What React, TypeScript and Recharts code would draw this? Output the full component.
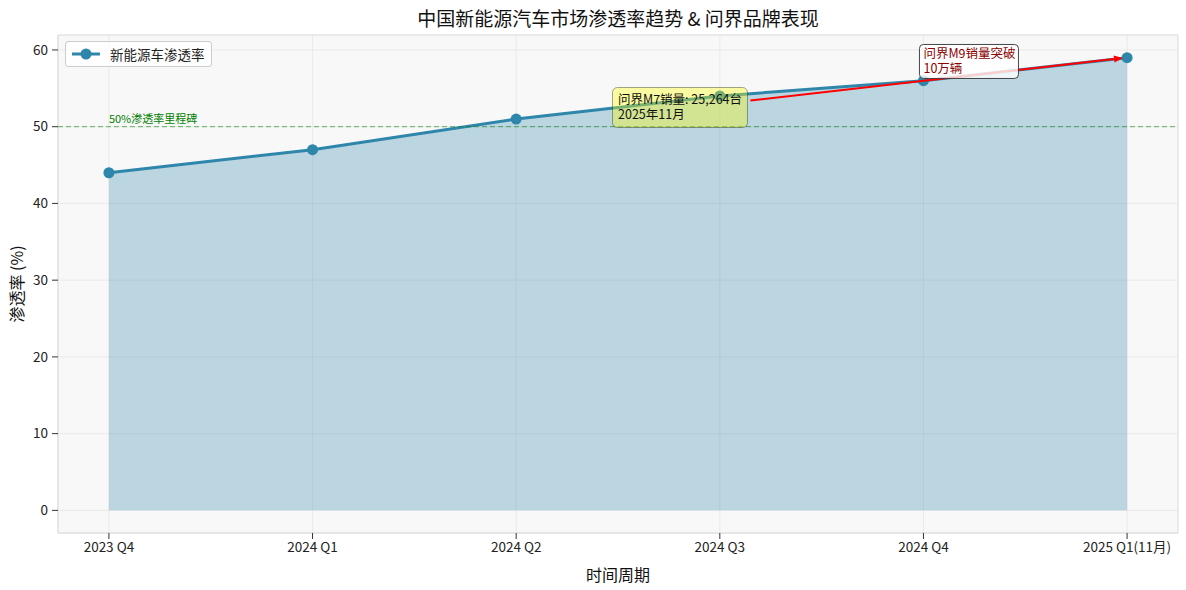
import React from 'react';
import {
  ComposedChart, Area, Line, XAxis, YAxis, CartesianGrid, Legend,
  ReferenceLine, ReferenceDot, ReferenceArea,
} from 'recharts';

const categories = ['2023 Q4', '2024 Q1', '2024 Q2', '2024 Q3', '2024 Q4', '2025 Q1(11月)'];
const penetration = [44, 47, 51, 54, 56, 59];
const yTicks = [0, 10, 20, 30, 40, 50, 60];
const milestone = 50;
const m7Note = { x: 2.5, y: 52.5, lines: ['问界M7销量: 25,264台', '2025年11月'] };
const m9Note = { x: 4, y: 58.5, lines: ['问界M9销量突破', '10万辆'] };
const arrowFrom = { x: 3.15, y: 53.4 };
const arrowTo = { x: 4.98, y: 58.95 };

const data = categories.map((c, i) => ({ idx: i, name: c, value: penetration[i] }));

const FONT = '"Noto Sans CJK SC", "Noto Sans", sans-serif';
const BLUE = '#2e86ab';

const ArrowShape = (props: any) => {
  const { x1, y1, x2, y2 } = props;
  if ([x1, y1, x2, y2].some((v) => typeof v !== 'number' || isNaN(v))) return null;
  const ang = Math.atan2(y2 - y1, x2 - x1);
  const L = 9, W = 3.5;
  const bx = x2 - L * Math.cos(ang), by = y2 - L * Math.sin(ang);
  const px = -Math.sin(ang) * W, py = Math.cos(ang) * W;
  return (
    <g>
      <line x1={x1} y1={y1} x2={bx} y2={by} stroke="red" strokeWidth={2} />
      <polygon points={`${x2},${y2} ${bx + px},${by + py} ${bx - px},${by - py}`} fill="red" />
    </g>
  );
};

const M7Box = (props: any) => {
  const { cx, cy } = props;
  return (
    <g>
      <rect x={cx - 5.5} y={cy - 20} width={135} height={40} rx={5}
        fill="#ffff00" fillOpacity={0.35} stroke="#000" strokeOpacity={0.35} strokeWidth={1} />
      <text fontSize={12.5} fontFamily={FONT} fill="#111">
        <tspan x={cx} y={cy - 3.5}>{m7Note.lines[0]}</tspan>
        <tspan x={cx} y={cy + 11.5}>{m7Note.lines[1]}</tspan>
      </text>
    </g>
  );
};

const M9Box = (props: any) => {
  const { cx, cy } = props;
  return (
    <g>
      <rect x={cx - 4} y={cy - 17} width={99} height={34} rx={4}
        fill="#ffffff" fillOpacity={0.8} stroke="#333" strokeOpacity={0.9} strokeWidth={1} />
      <text fontSize={12.5} fontFamily={FONT} fill="#8b0000">
        <tspan x={cx} y={cy - 3.5}>{m9Note.lines[0]}</tspan>
        <tspan x={cx} y={cy + 11.5}>{m9Note.lines[1]}</tspan>
      </text>
    </g>
  );
};

const MilestoneLabel = (props: any) => {
  const { cx, cy } = props;
  return (
    <text x={cx} y={cy - 4} fontSize={11} fontFamily={FONT} fill="green">50%渗透率里程碑</text>
  );
};

const YLabel = (props: any) => {
  const vb = props.viewBox || {};
  const cy = (vb.y ?? 35) + (vb.height ?? 498) / 2;
  const cx = 16;
  return (
    <text x={cx} y={cy} transform={`rotate(-90, ${cx}, ${cy})`} textAnchor="middle"
      dominantBaseline="central" fontSize={16} fontFamily={FONT} fill="#111">渗透率 (%)</text>
  );
};

const LegendContent = () => (
  <div style={{
    display: 'flex', alignItems: 'center', background: 'rgba(255,255,255,0.8)',
    border: '1px solid #cccccc', borderRadius: 3, padding: '2px 6px 2px 4px', height: 20,
    fontFamily: FONT, fontSize: 13.5, color: '#222', whiteSpace: 'nowrap',
  }}>
    <svg width={30} height={14} style={{ marginRight: 10 }}>
      <line x1={2} y1={7} x2={30} y2={7} stroke={BLUE} strokeWidth={3} />
      <circle cx={16} cy={7} r={5.5} fill={BLUE} />
    </svg>
    <span>新能源车渗透率</span>
  </div>
);

export default function App() {
  return (
    <div style={{ position: 'absolute', left: 0, top: 0, width: 1186, height: 590, background: '#fff' }}>
      <div style={{
        position: 'absolute', left: 0, width: 1236, top: 4, textAlign: 'center',
        fontFamily: FONT, fontSize: 19, color: '#111',
      }}>中国新能源汽车市场渗透率趋势 &amp; 问界品牌表现</div>
      <ComposedChart width={1186} height={590} data={data}
        margin={{ top: 35, right: 8, left: 0, bottom: 0 }}>
        <CartesianGrid fill="#f8f8f8" stroke="#e6e6e6" strokeWidth={0.8} />
        <XAxis dataKey="idx" type="number" domain={[-0.25, 5.25]} ticks={[0, 1, 2, 3, 4, 5]}
          allowDataOverflow tickFormatter={(v: number) => categories[v] ?? ''} height={57}
          tick={{ fontSize: 13.5, fill: '#222', fontFamily: FONT }} tickMargin={3}
          axisLine={{ stroke: '#e2e2e2' }} tickLine={{ stroke: '#333' }}
          label={{ value: '时间周期', position: 'insideBottom', offset: 9, fontSize: 16, fill: '#111', fontFamily: FONT }} />
        <YAxis type="number" domain={[-2.95, 61.95]} ticks={yTicks} allowDataOverflow width={58}
          tick={{ fontSize: 13.5, fill: '#222', fontFamily: FONT }} tickMargin={4}
          axisLine={{ stroke: '#e2e2e2' }} tickLine={{ stroke: '#333' }}
          label={<YLabel />} />
        <ReferenceArea x1={-0.25} x2={5.25} y1={-2.95} y2={61.95} fill="none" fillOpacity={0}
          stroke="#e2e2e2" ifOverflow="visible" />
        <Area dataKey="value" type="linear" baseValue={0} fill={BLUE} fillOpacity={0.3}
          stroke={BLUE} strokeOpacity={0.3} strokeWidth={1} isAnimationActive={false} legendType="none" />
        <Line dataKey="value" type="linear" stroke={BLUE} strokeWidth={3}
          dot={{ r: 5.5, fill: BLUE, stroke: BLUE, strokeWidth: 0 }} activeDot={false}
          isAnimationActive={false} name="新能源车渗透率" />
        <ReferenceLine y={milestone} stroke="green" strokeOpacity={0.6} strokeDasharray="5 3"
          strokeWidth={1} zIndex={1400} />
        <ReferenceDot x={0} y={milestone} r={0} shape={MilestoneLabel} ifOverflow="visible" zIndex={1450} />
        <ReferenceLine segment={[arrowFrom, arrowTo]} shape={ArrowShape} ifOverflow="visible" zIndex={1500} />
        <ReferenceDot x={m7Note.x} y={m7Note.y} r={0} shape={M7Box} ifOverflow="visible" zIndex={1600} />
        <ReferenceDot x={m9Note.x} y={m9Note.y} r={0} shape={M9Box} ifOverflow="visible" zIndex={1600} />
        <Legend layout="vertical" align="center" verticalAlign="middle" content={LegendContent}
          wrapperStyle={{ position: 'absolute', top: 41, left: 65, width: 'auto', height: 'auto' }} />
      </ComposedChart>
    </div>
  );
}
